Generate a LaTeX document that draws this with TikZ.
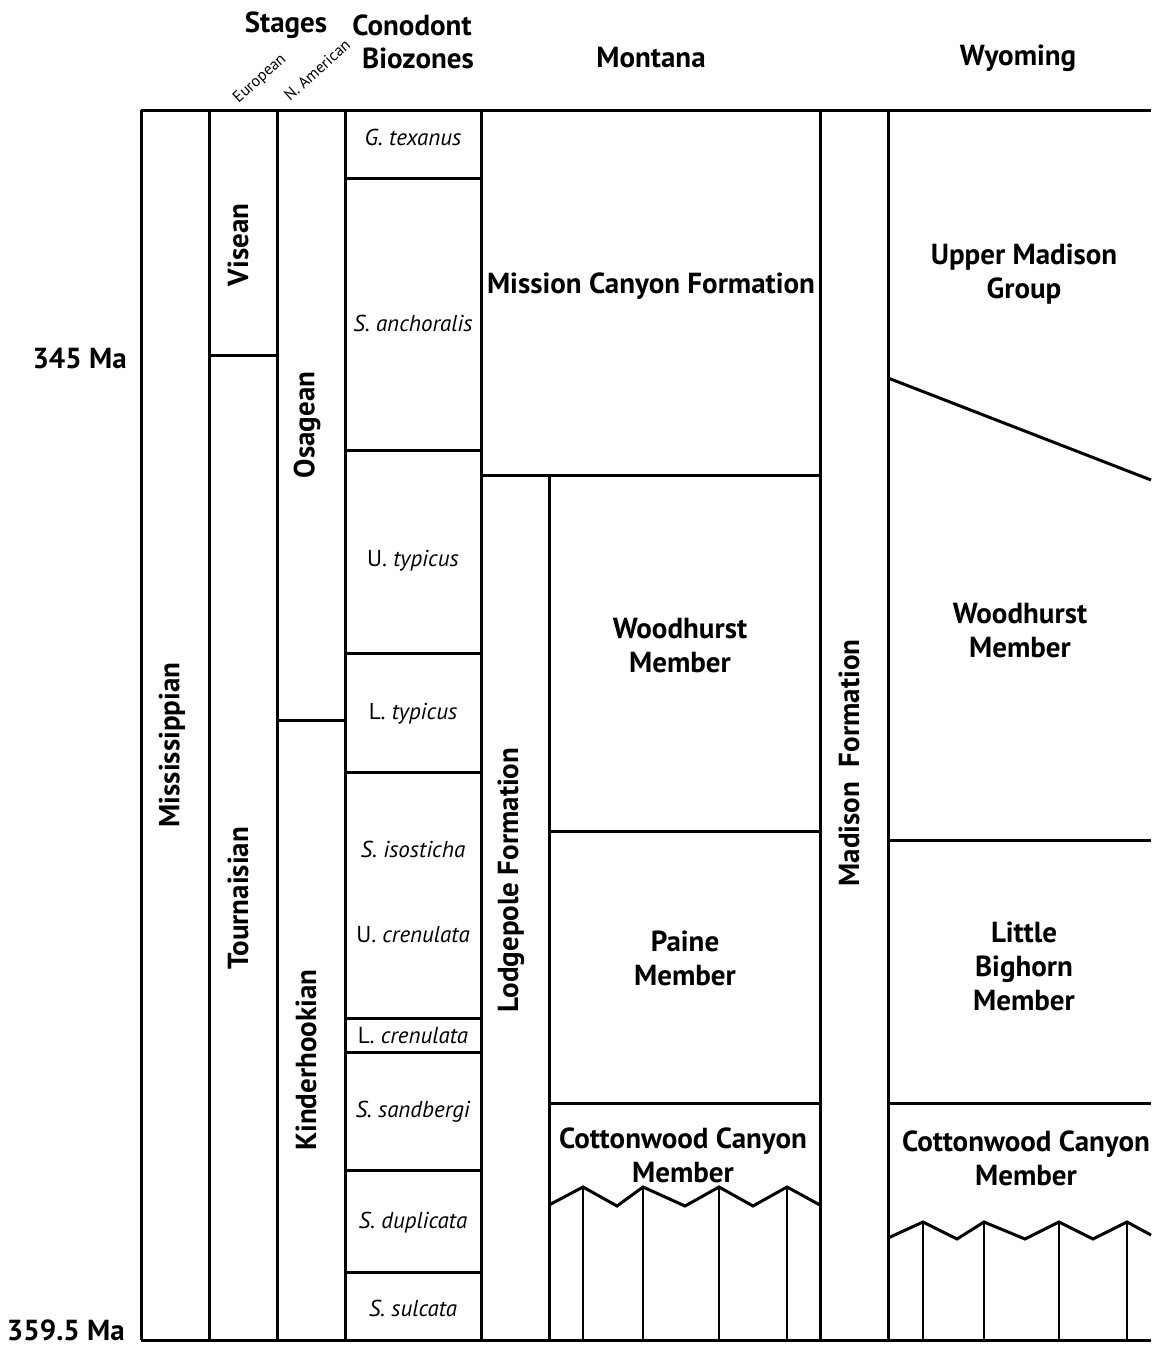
\documentclass[tikz,border=0pt]{standalone}
\usepackage{fontspec}
\setmainfont{PT Sans}
\usepackage{tikz}
\usetikzlibrary{positioning}

\tikzset{
  frame/.style={line width=3pt},
  thin/.style={line width=1.5pt},
  unit/.style={font=\fontsize{29}{34}\selectfont\bfseries, align=center, inner sep=0pt},
  side/.style={unit, rotate=90},
  zone/.style={font=\fontsize{23}{27}\selectfont, inner sep=0pt},
  tiny/.style={font=\fontsize{16}{18}\selectfont, rotate=42, inner sep=0pt}
}

\begin{document}
\begin{tikzpicture}[x=1pt, y=-1pt]
\useasboundingbox (0,0) rectangle (1151,1346);

% Headers
\node[unit] (hstages) at (286,25) {Stages};
\node[unit] (hcono) at (412,25) {Conodont};
\node[unit] (hbio) at (418,58) {Biozones};
\node[unit] (hmont) at (651,58) {Montana};
\node[unit] (hwyo) at (1018,58) {Wyoming};
\node[tiny] (heuro) at (260,79) {European};
\node[tiny] (hnam) at (317,70) {N. American};

% Ages
\node[unit, anchor=east] (a345) at (127,358) {345 Ma};
\node[unit, anchor=east] (a359) at (125,1330) {359.5 Ma};

% Frame
\draw[frame] (141,110) -- (1151,110);
\draw[frame] (141,1340) -- (1151,1340);
\draw[frame] (141,110) -- (141,1340);
\draw[frame] (209,110) -- (209,1340);
\draw[frame] (277,110) -- (277,1340);
\draw[frame] (345,110) -- (345,1340);
\draw[frame] (481,110) -- (481,1340);
\draw[frame] (549,475) -- (549,1340);
\draw[frame] (820,110) -- (820,1340);
\draw[frame] (888,110) -- (888,1340);

% Stages
\draw[frame] (209,355) -- (277,355);
\draw[frame] (277,720) -- (345,720);
\node[side] (miss) at (172,745) {Mississippian};
\node[side] (visean) at (238,245) {Visean};
\node[side] (tourn) at (238,898) {Tournaisian};
\node[side] (osag) at (307,425) {Osagean};
\node[side] (kind) at (306,1060) {Kinderhookian};

% Biozones
\draw[frame] (345,178) -- (481,178);
\draw[frame] (345,450) -- (481,450);
\draw[frame] (345,653) -- (481,653);
\draw[frame] (345,772) -- (481,772);
\draw[frame] (345,1018) -- (481,1018);
\draw[frame] (345,1052) -- (481,1052);
\draw[frame] (345,1170) -- (481,1170);
\draw[frame] (345,1272) -- (481,1272);
\node[zone] (ztex) at (413,137) {\textit{G. texanus}};
\node[zone] (zanc) at (413,323) {\textit{S. anchoralis}};
\node[zone] (zutyp) at (413,561) {U. \textit{typicus}};
\node[zone] (zltyp) at (413,714) {L. \textit{typicus}};
\node[zone] (ziso) at (413,849) {\textit{S. isosticha}};
\node[zone] (zucren) at (413,935) {U. \textit{crenulata}};
\node[zone] (zlcren) at (413,1036) {L. \textit{crenulata}};
\node[zone] (zsand) at (413,1112) {\textit{S. sandbergi}};
\node[zone] (zdup) at (413,1223) {\textit{S. duplicata}};
\node[zone] (zsulc) at (413,1308) {\textit{S. sulcata}};

% Montana
\draw[frame] (481,475) -- (820,475);
\draw[frame] (549,831) -- (820,831);
\draw[frame] (549,1103) -- (820,1103);
\node[unit] (mission) at (651,286) {Mission Canyon Formation};
\node[side] (lodge) at (511,880) {Lodgepole Formation};
\node[unit] (mwood) at (680,646) {Woodhurst\\Member};
\node[unit] (mpaine) at (685,958) {Paine\\Member};
\node[unit] (mcott) at (683,1155) {Cottonwood Canyon\\Member};
\draw[frame] (549,1205) -- (583,1187) -- (617,1206) -- (643,1187) -- (685,1206)
  -- (719,1187) -- (753,1206) -- (787,1187) -- (820,1205);
\draw[thin] (583,1187) -- (583,1340);
\draw[thin] (643,1187) -- (643,1340);
\draw[thin] (719,1187) -- (719,1340);
\draw[thin] (787,1187) -- (787,1340);

% Madison
\node[side] (madison) at (849,763) {Madison\ \ Formation};

% Wyoming
\draw[frame] (888,378) -- (1151,480);
\draw[frame] (888,840) -- (1151,840);
\draw[frame] (888,1103) -- (1151,1103);
\node[unit] (wupper) at (1024,274) {Upper Madison\\Group};
\node[unit] (wwood) at (1020,631) {Woodhurst\\Member};
\node[unit] (wlbh) at (1024,966) {Little\\Bighorn\\Member};
\node[unit] (wcott) at (1026,1158) {Cottonwood Canyon\\Member};
\draw[frame] (888,1238) -- (923,1222) -- (957,1239) -- (984,1222) -- (1025,1239)
  -- (1059,1222) -- (1093,1239) -- (1127,1222) -- (1151,1235);
\draw[thin] (923,1222) -- (923,1340);
\draw[thin] (984,1222) -- (984,1340);
\draw[thin] (1059,1222) -- (1059,1340);
\draw[thin] (1127,1222) -- (1127,1340);

\end{tikzpicture}
\end{document}
